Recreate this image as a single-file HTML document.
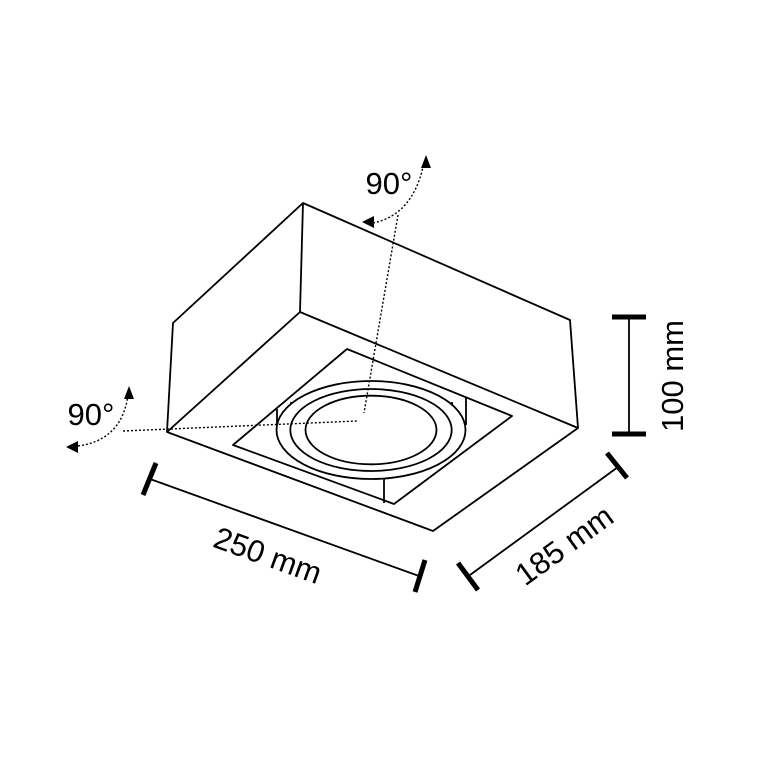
<!DOCTYPE html>
<html><head><style>body{margin:0;background:#fff}svg{display:block}</style></head><body>
<svg width="776" height="776" viewBox="0 0 776 776" xmlns="http://www.w3.org/2000/svg">
<g fill="none" stroke="#000" stroke-width="1.8" stroke-linejoin="round">
<polygon points="303,203 173,323 167,432 433,531 578,428 570,320"/>
<polyline points="303,203 300,312 167,432"/>
<line x1="300" y1="312" x2="578" y2="428"/>
<polygon points="347,349 512,416 394,504 233,445"/>
<line x1="277" y1="409" x2="277" y2="430"/>
<line x1="291" y1="402" x2="291" y2="430"/>
<line x1="452" y1="402" x2="452" y2="430"/>
<line x1="466" y1="397" x2="466" y2="425"/>
<line x1="384" y1="479" x2="384" y2="503"/>
<ellipse cx="371" cy="430" rx="94.5" ry="49" fill="#fff"/>
<ellipse cx="371" cy="430" rx="80.7" ry="41"/>
<ellipse cx="371" cy="430" rx="65.5" ry="34.3"/>
</g>
<g fill="none" stroke="#000" stroke-width="1.4" stroke-dasharray="2,2">
<line x1="123" y1="431" x2="357" y2="421"/>
<line x1="398" y1="215" x2="364" y2="413"/>
<path d="M373,223 Q412,215 423,167"/>
<path d="M78,446 Q122,440 128,395"/>
</g>
<g fill="#000">
<polygon points="426,155 421,168 431,168"/>
<polygon points="362,222 374,216 374,228"/>
<polygon points="129,386 124,399 134,399"/>
<polygon points="66,447 78,441 78,453"/>
</g>
<g stroke="#000" fill="none">
<line x1="150" y1="479" x2="419" y2="576" stroke-width="1.8"/>
<line x1="143" y1="495" x2="156" y2="463" stroke-width="5"/>
<line x1="415" y1="592" x2="425" y2="560" stroke-width="5"/>
<line x1="470" y1="575" x2="618" y2="467" stroke-width="1.8"/>
<line x1="458" y1="563" x2="478" y2="590" stroke-width="5"/>
<line x1="607" y1="453" x2="627" y2="478" stroke-width="5"/>
<line x1="629" y1="317" x2="629" y2="434" stroke-width="1.8"/>
<line x1="612" y1="317" x2="646" y2="317" stroke-width="5"/>
<line x1="612" y1="434" x2="646" y2="434" stroke-width="5"/>
</g>
<g font-family="Liberation Sans, sans-serif" font-size="31" fill="#000" text-anchor="middle">
<text x="389" y="194">90°</text>
<text x="91" y="425">90°</text>
<text transform="translate(268,555) rotate(19.8)" dy="11">250 mm</text>
<text transform="translate(564,545) rotate(-36)" dy="11">185 mm</text>
<text transform="translate(672,376) rotate(-90)" dy="11">100 mm</text>
</g>
</svg>
</body></html>
